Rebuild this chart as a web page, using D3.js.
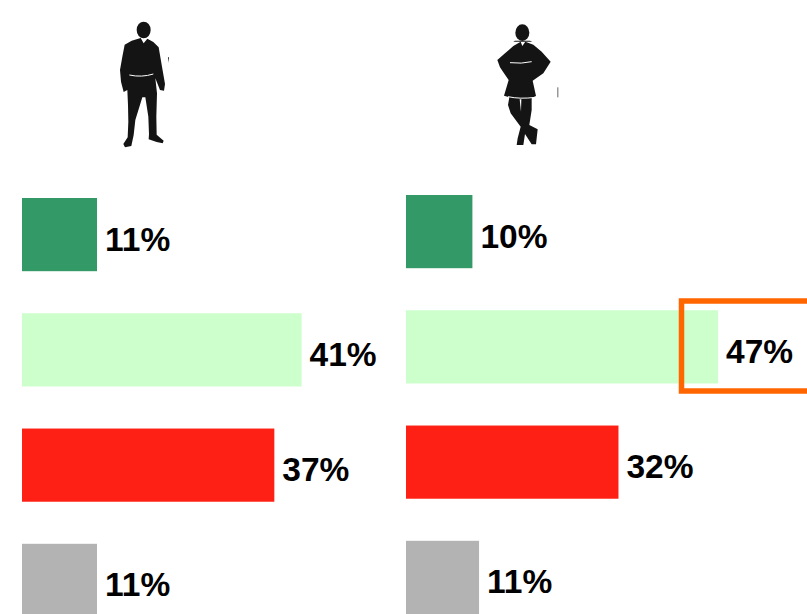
<!DOCTYPE html>
<html><head><meta charset="utf-8">
<script src="https://cdn.jsdelivr.net/npm/d3@7/dist/d3.min.js"></script>
<style>html,body{margin:0;padding:0;background:#fff;overflow:hidden}svg{display:block}text{font-family:"Liberation Sans",Arial,sans-serif;font-weight:700;fill:#000}</style>
</head><body><svg id="c" width="807" height="614"></svg>
<script>
const categories = ["a","b","c","d"];
const colors = ["#339966","#CCFFCC","#FF2015","#B3B3B3"];
const menValues = [11,41,37,11];
const womenValues = [10,47,32,11];
const manShape = [[122,84],[95,92],[74,104],[67,140],[60,180],[63,215],[71,246],[82,240],[84,285],[85,335],[83,382],[70,402],[75,412],[94,408],[101,375],[106,330],[127,262],[136,262],[145,320],[147,372],[146,388],[170,396],[188,400],[191,392],[170,374],[169,320],[171,250],[166,205],[180,240],[192,242],[195,222],[186,170],[176,112],[160,96],[142,86],[131,100]];
const womanShape = [[122,95],[100,108],[75,130],[52,150],[60,172],[72,190],[86,210],[72,257],[88,262],[84,285],[92,310],[122,350],[113,385],[110,405],[130,405],[135,372],[155,403],[168,403],[173,358],[148,345],[155,300],[155,264],[168,258],[158,212],[190,190],[212,155],[185,125],[160,104],[136,95],[127,108]];
const svg = d3.select("#c");
const line = d3.line().curve(d3.curveLinearClosed);
function figure(shape, ox, oy, head, hairWide){
  const g = svg.append("g").attr("transform",`translate(${ox},${oy}) scale(${1/3})`).attr("fill","#141414");
  g.append("path").attr("d",line(shape));
  g.append("ellipse").attr("cx",head[0]).attr("cy",head[1]).attr("rx",head[2]).attr("ry",head[3]);
  return g;
}
const man = figure(manShape,100,10,[131,60,21,25]);
man.append("path").attr("d","M88 195Q125 203 160 192").attr("fill","none").attr("stroke","#fff").attr("stroke-width",3);
man.append("path").attr("d","M204 142L207 142L206 158Z");
const woman = figure(womanShape,480,10,[127,68,21,25]);
woman.append("path").attr("d",line([[105,92],[150,92],[157,95],[100,95]]));
woman.append("path").attr("d","M90 158Q125 162 155 155").attr("fill","none").attr("stroke","#fff").attr("stroke-width",3);
woman.append("path").attr("d","M84 260Q120 268 166 262").attr("fill","none").attr("stroke","#fff").attr("stroke-width",3);
woman.append("path").attr("d","M119 268L124 268L123 305Z").attr("fill","#fff");
woman.append("rect").attr("x",232).attr("y",232).attr("width",3).attr("height",30).attr("fill","#666");

function panel(values, x0, top, bottom, perPct){
  const y = d3.scaleBand().domain(categories).range([top,bottom]).paddingInner(0.365);
  const x = d3.scaleLinear().domain([0,100]).range([x0,x0+perPct*100]);
  const g = svg.append("g");
  g.selectAll("rect").data(values).join("rect")
    .attr("x",x(0)).attr("y",(d,i)=>y(categories[i]))
    .attr("width",d=>x(d)-x(0)).attr("height",y.bandwidth())
    .attr("fill",(d,i)=>colors[i]);
  g.selectAll("text").data(values).join("text")
    .attr("x",d=>x(d)+8).attr("y",(d,i)=>y(categories[i])+y.bandwidth()/2+16)
    .attr("font-size",33.5).text(d=>d+"%");
}
panel(menValues,22,198,617,6.82);
panel(womenValues,406,195,614,6.64);
svg.append("rect").attr("x",681.5).attr("y",301).attr("width",140).attr("height",90)
  .attr("fill","none").attr("stroke","#FF6600").attr("stroke-width",5.5);
</script></body></html>
